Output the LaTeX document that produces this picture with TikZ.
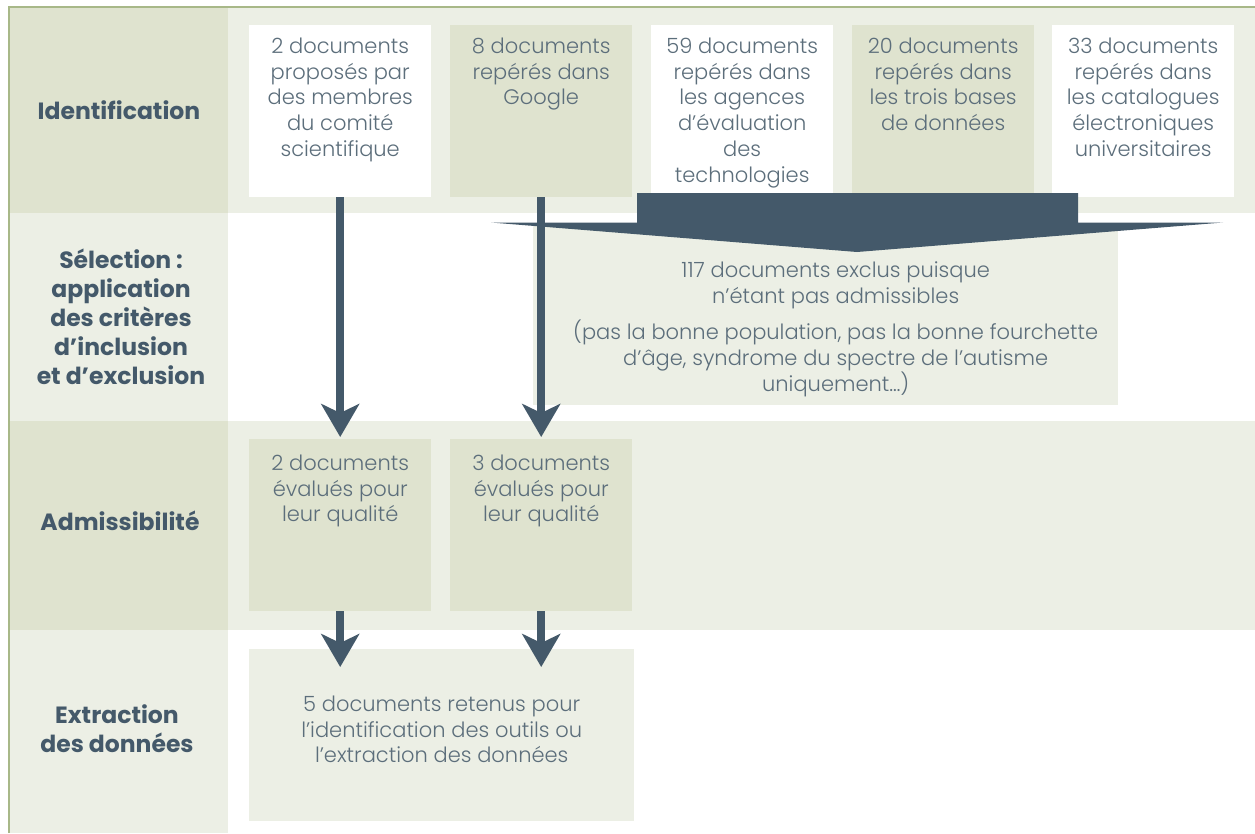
\documentclass[tikz,border=0pt]{standalone}
\usepackage{fontspec}
\setmainfont{Poppins}
\newfontfamily\lightfont{Poppins Light}
\usetikzlibrary{arrows.meta,calc}
\definecolor{dkg}{HTML}{DFE3CF}
\definecolor{ltg}{HTML}{ECEFE5}
\definecolor{brd}{HTML}{A8B888}
\definecolor{arr}{HTML}{44596A}
\definecolor{txt}{HTML}{5C6E7B}
\newcommand{\boxtxt}[5]{\parbox[c][#1][t]{#2}{\centering\leftskip=#3 plus 1fil\rule{0pt}{#4}#5\par}}
\begin{document}
\begin{tikzpicture}[x=1pt,y=-1pt,
  box/.style={inner sep=0pt, anchor=north west, text=txt, font=\lightfont\fontsize{21}{25.8}\selectfont},
  lab/.style={text=arr, font=\bfseries\fontsize{23.5}{29}\selectfont, align=center, inner sep=0pt},
  flow/.style={draw=arr, line width=8pt, -{Stealth[length=33pt,width=38pt,inset=9pt]}}
]
\useasboundingbox (0,0) rectangle (1255,833);
% row backgrounds
\fill[dkg] (9,7) rectangle (228,213);
\fill[ltg] (228,7) rectangle (1255,213);
\fill[ltg] (9,213) rectangle (228,421);
\fill[dkg] (9,421) rectangle (228,630);
\fill[ltg] (228,421) rectangle (1255,630);
\fill[ltg] (9,630) rectangle (228,833);
\draw[brd, line width=2pt] (9,833) -- (9,6.5) -- (1255,6.5);

% row labels
\node[lab] (l1) at (119,110) {Identification};
\node[lab] (l2) at (121,317) {Sélection :\\application\\des critères\\d’inclusion\\et d’exclusion};
\node[lab] (l3) at (120,521) {Admissibilité};
\node[lab] (l4) at (117,729) {Extraction\\des données};

% identification boxes
\node[box, fill=white] (b1) at (249,25) {\boxtxt{172pt}{182pt}{0pt}{28pt}{2 documents\\proposés par\\des membres\\du comité\\scientifique}};
\node[box, fill=dkg] (b2) at (450,25) {\boxtxt{172pt}{182pt}{0pt}{28pt}{8 documents\\repérés dans\\Google}};
\node[box, fill=white] (b3) at (651,25) {\boxtxt{172pt}{182pt}{0pt}{28pt}{59 documents\\repérés dans\\les agences\\d’évaluation\\des\\technologies}};
\node[box, fill=dkg] (b4) at (852,25) {\boxtxt{172pt}{182pt}{0pt}{28pt}{20 documents\\repérés dans\\les trois bases\\de données}};
\node[box, fill=white] (b5) at (1052,25) {\boxtxt{172pt}{182pt}{0pt}{28pt}{33 documents\\repérés dans\\les catalogues\\électroniques\\universitaires}};

% exclusion box
\node[box, fill=ltg] (ex) at (533,226) {\boxtxt{179pt}{585pt}{20pt}{51pt}{117 documents exclus puisque\\n’étant pas admissibles\par\vspace{11pt}(pas la bonne population, pas la bonne fourchette\\d’âge, syndrome du spectre de l’autisme\\uniquement…)}};

% big exclusion arrow
\fill[arr] (637,193) -- (1078,193) -- (1078,222.5) -- (1223,222.5) -- (857,252) -- (491,222.5) -- (637,222.5) -- cycle;

% admissibility boxes
\node[box, fill=dkg] (a1) at (249,439) {\boxtxt{172pt}{182pt}{0pt}{31pt}{2 documents\\évalués pour\\leur qualité}};
\node[box, fill=dkg] (a2) at (450,439) {\boxtxt{172pt}{182pt}{0pt}{31pt}{3 documents\\évalués pour\\leur qualité}};

% extraction box
\node[box, fill=ltg] (e) at (249,649) {\boxtxt{172pt}{385pt}{0pt}{62pt}{5 documents retenus pour\\l’identification des outils ou\\l’extraction des données}};

% arrows
\draw[flow, shorten >=2pt] (b1.south) -- (a1.north);
\draw[flow, shorten >=2pt] (b2.south) -- (a2.north);
\draw[flow] (a1.south) -- ($(a1.south |- e.north)+(0,18)$);
\draw[flow] (a2.south) -- ($(a2.south |- e.north)+(0,18)$);
\end{tikzpicture}
\end{document}
